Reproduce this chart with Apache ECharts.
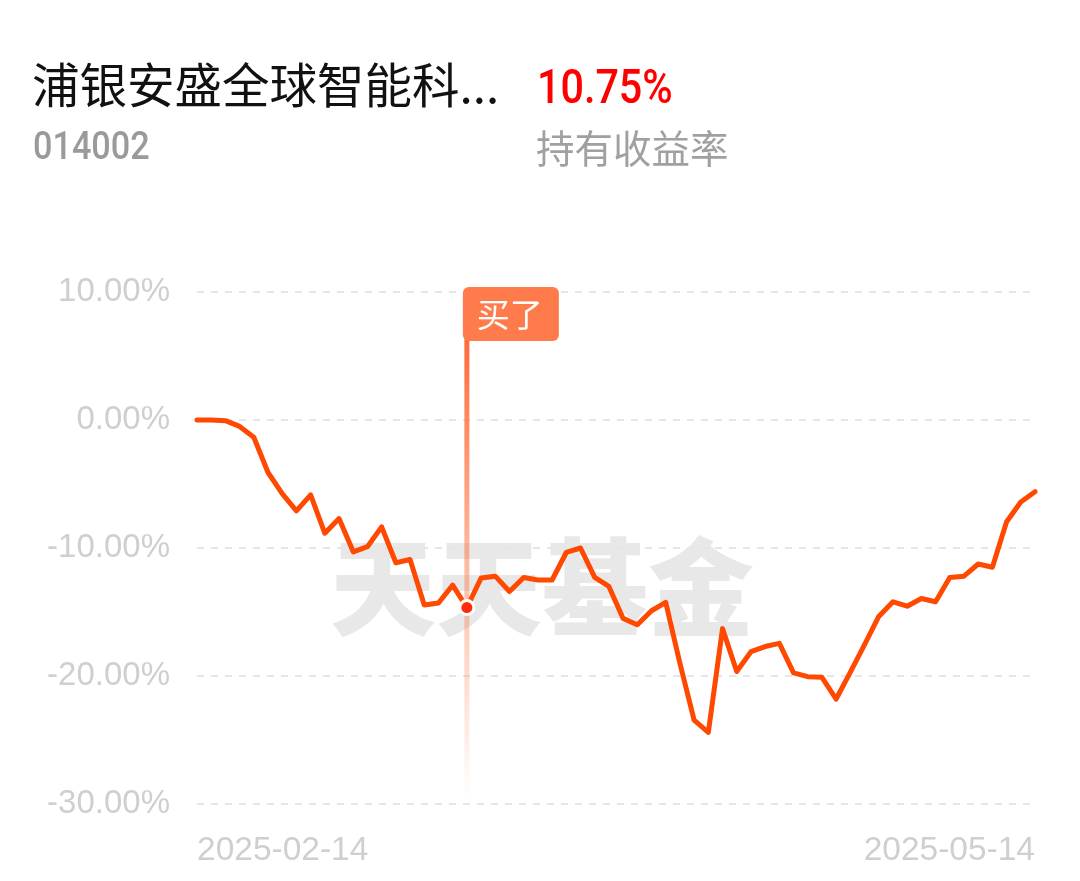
<!DOCTYPE html>
<html>
<head>
<meta charset="utf-8">
<script src="https://cdn.jsdelivr.net/npm/echarts@6/dist/echarts.min.js"></script>
<style>
html,body{margin:0;padding:0;background:#fff;}
#chart{width:1080px;height:881px;}
</style>
</head>
<body>
<div id="chart"></div>
<script>
const fundName = '浦银安盛全球智能科...';
const fundCode = '014002';
const holdReturn = '10.75%';
const holdReturnLabel = '持有收益率';
const watermark = '天天基金';
const buyLabel = '买了';

const dates = [
  '2025-02-14','2025-02-17','2025-02-18','2025-02-19','2025-02-20','2025-02-21',
  '2025-02-24','2025-02-25','2025-02-26','2025-02-27','2025-02-28',
  '2025-03-03','2025-03-04','2025-03-05','2025-03-06','2025-03-07',
  '2025-03-10','2025-03-11','2025-03-12','2025-03-13','2025-03-14',
  '2025-03-17','2025-03-18','2025-03-19','2025-03-20','2025-03-21',
  '2025-03-24','2025-03-25','2025-03-26','2025-03-27','2025-03-28','2025-03-31',
  '2025-04-01','2025-04-02','2025-04-03',
  '2025-04-07','2025-04-08','2025-04-09','2025-04-10','2025-04-11',
  '2025-04-14','2025-04-15','2025-04-16','2025-04-17','2025-04-18',
  '2025-04-21','2025-04-22','2025-04-23','2025-04-24','2025-04-25',
  '2025-04-28','2025-04-29','2025-04-30',
  '2025-05-06','2025-05-07','2025-05-08','2025-05-09',
  '2025-05-12','2025-05-13','2025-05-14'
];
const returns = [
  0.00, 0.00, -0.05, -0.5, -1.35, -4.1, -5.75, -7.1, -5.85, -8.85,
  -7.7, -10.3, -9.9, -8.35, -11.15, -10.9, -14.45, -14.3, -12.9, -14.65,
  -12.35, -12.2, -13.4, -12.3, -12.5, -12.5, -10.35, -10.0, -12.3, -13.0,
  -15.5, -16.0, -14.9, -14.25, -19.0, -23.45, -24.4, -16.3, -19.65, -18.1,
  -17.7, -17.45, -19.75, -20.05, -20.1, -21.8, -19.7, -17.55, -15.35, -14.2,
  -14.55, -13.95, -14.2, -12.3, -12.2, -11.25, -11.5, -7.95, -6.4, -5.6
];
const buyDate = '2025-03-13';
const buyValue = returns[dates.indexOf(buyDate)];
const yTicks = [-30, -20, -10, 0, 10];

const chart = echarts.init(document.getElementById('chart'), null, {renderer: 'canvas'});

const option = {
  backgroundColor: '#ffffff',
  animation: false,
  graphic: [
    {type: 'text', left: 32, top: 61, z: 10, style: {text: fundName, fill: '#111111', font: '400 47.5px "Noto Sans CJK SC"'}},
    {type: 'text', x: 537, y: 67, scaleX: 0.86, z: 10, style: {text: holdReturn, fill: '#ff0000', font: '500 48px Roboto'}},
    {type: 'text', x: 33, y: 130, scaleX: 0.9, z: 10, style: {text: fundCode, fill: '#9a9a9a', font: '500 38px Roboto'}},
    {type: 'text', left: 536, top: 129, z: 10, style: {text: holdReturnLabel, fill: '#a0a0a0', font: '400 38.5px "Noto Sans CJK SC"'}},
    {type: 'text', left: 330, top: 534, z: -1, style: {text: watermark, fill: '#e8e8e8', font: '900 106px "Noto Sans CJK SC"'}}
  ],
  grid: {left: 197, right: 45, top: 292, bottom: 77, containLabel: false},
  xAxis: {
    type: 'category',
    data: dates,
    boundaryGap: false,
    axisLine: {show: false},
    axisTick: {show: false},
    splitLine: {show: false},
    axisLabel: {
      interval: function (index) { return index === 0 || index === dates.length - 1; },
      showMinLabel: true,
      showMaxLabel: true,
      alignMinLabel: 'left',
      alignMaxLabel: 'right',
      color: '#cfcfcf',
      fontSize: 33.5,
      fontFamily: '"Liberation Sans", Arial, sans-serif',
      margin: 30
    }
  },
  yAxis: {
    type: 'value',
    min: yTicks[0],
    max: yTicks[yTicks.length - 1],
    interval: 10,
    axisLine: {show: false},
    axisTick: {show: false},
    axisLabel: {
      formatter: function (v) { return v.toFixed(2) + '%'; },
      color: '#cfcfcf',
      fontSize: 33,
      fontFamily: '"Liberation Sans", Arial, sans-serif',
      margin: 27
    },
    splitLine: {lineStyle: {color: '#e6e6e6', width: 2, type: [7, 7]}}
  },
  series: [
    {
      type: 'line',
      data: returns,
      symbol: 'none',
      z: 3,
      lineStyle: {color: '#ff4800', width: 5, join: 'round', cap: 'round'}
    },
    {
      type: 'custom',
      z: 5,
      clip: false,
      data: [[buyDate, buyValue]],
      renderItem: function (params, api) {
        const p = api.coord([api.value(0), api.value(1)]);
        const cs = params.coordSys;
        const top = cs.y;
        const bottom = cs.y + cs.height;
        const flagX = p[0] - 4;
        return {
          type: 'group',
          children: [
            {
              type: 'line',
              shape: {x1: p[0], y1: top + 46, x2: p[0], y2: bottom - 8},
              style: {
                lineWidth: 5,
                stroke: new echarts.graphic.LinearGradient(0, 0, 0, 1, [
                  {offset: 0, color: 'rgba(255,105,55,1)'},
                  {offset: 0.5, color: 'rgba(255,120,70,0.5)'},
                  {offset: 1, color: 'rgba(255,120,70,0.0)'}
                ])
              }
            },
            {
              type: 'rect',
              shape: {x: flagX, y: top - 5, width: 96, height: 54, r: 6},
              style: {fill: '#ff7b4c'}
            },
            {
              type: 'text',
              style: {
                text: buyLabel,
                x: flagX + 47, y: top + 22,
                align: 'center', verticalAlign: 'middle',
                fill: '#ffffff',
                font: '400 33px "Noto Sans CJK SC"'
              }
            },
            {
              type: 'circle',
              shape: {cx: p[0], cy: p[1], r: 7},
              style: {fill: '#ff2a0a', stroke: '#ffffff', lineWidth: 3}
            }
          ]
        };
      }
    }
  ]
};
chart.setOption(option);
</script>
</body>
</html>
